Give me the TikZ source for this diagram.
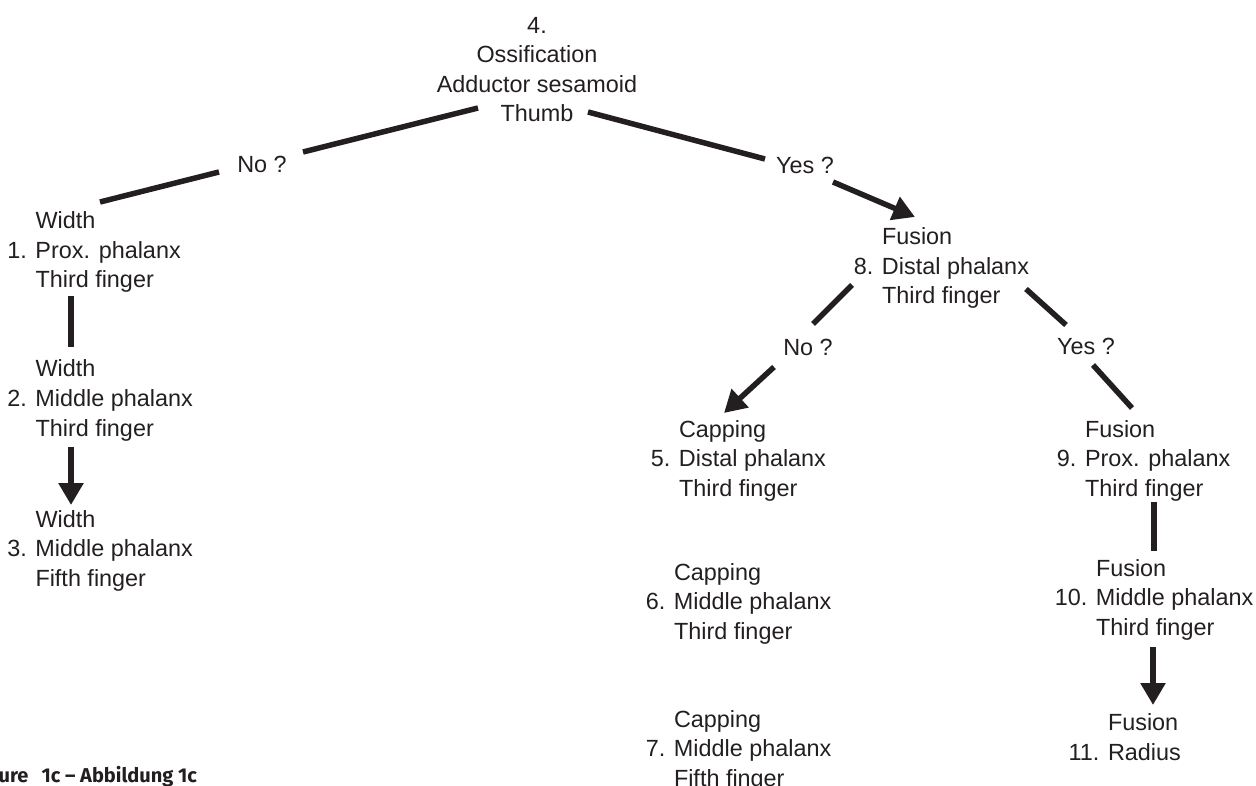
\documentclass[tikz,border=0pt]{standalone}
\usepackage{fontspec}
\setmainfont{Liberation Sans}
\newfontfamily\capfont{Fira Sans}
\usetikzlibrary{arrows.meta}
\definecolor{ink}{HTML}{231F20}
\begin{document}
\begin{tikzpicture}[x=1pt,y=-1pt,
  every node/.style={inner sep=0pt,outer sep=0pt,text=ink},
  lbl/.style={font=\fontsize{23.4}{29.5}\selectfont,anchor=base west},
  tlbl/.style={font=\fontsize{23.4}{29.5}\selectfont,anchor=base},
  qlbl/.style={font=\fontsize{23.4}{29.5}\selectfont,anchor=center},
  conn/.style={draw=ink,line width=5.5pt},
  arr/.style={conn,-{Triangle[length=22pt,width=24pt]}}
]
\path[use as bounding box] (0,0) rectangle (1256,786);
\clip (0,0) rectangle (1256,786);

% decision / measurement nodes
\node[tlbl] (n4) at (537,33.5) {\begin{tabular}[t]{@{}c@{}}4.\\Ossification\\Adductor sesamoid\\Thumb\end{tabular}};
\node[lbl] (n1) at (35.5,229) {\begin{tabular}[t]{@{}l@{}}Width\\\llap{1. }Prox. phalanx\\Third finger\end{tabular}};
\node[lbl] (n2) at (35.5,377) {\begin{tabular}[t]{@{}l@{}}Width\\\llap{2. }Middle phalanx\\Third finger\end{tabular}};
\node[lbl] (n3) at (35.5,527) {\begin{tabular}[t]{@{}l@{}}Width\\\llap{3. }Middle phalanx\\Fifth finger\end{tabular}};
\node[lbl] (n8) at (882,245) {\begin{tabular}[t]{@{}l@{}}Fusion\\\llap{8. }Distal phalanx\\Third finger\end{tabular}};
\node[lbl] (n5) at (679,437) {\begin{tabular}[t]{@{}l@{}}Capping\\\llap{5. }Distal phalanx\\Third finger\end{tabular}};
\node[lbl] (n6) at (674,580) {\begin{tabular}[t]{@{}l@{}}Capping\\\llap{6. }Middle phalanx\\Third finger\end{tabular}};
\node[lbl] (n7) at (674,727) {\begin{tabular}[t]{@{}l@{}}Capping\\\llap{7. }Middle phalanx\\Fifth finger\end{tabular}};
\node[lbl] (n9) at (1085,437) {\begin{tabular}[t]{@{}l@{}}Fusion\\\llap{9. }Prox. phalanx\\Third finger\end{tabular}};
\node[lbl] (n10) at (1096,576) {\begin{tabular}[t]{@{}l@{}}Fusion\\\llap{10. }Middle phalanx\\Third finger\end{tabular}};
\node[lbl] (n11) at (1108,730.5) {\begin{tabular}[t]{@{}l@{}}Fusion\\\llap{11. }Radius\end{tabular}};

% answer labels
\node[qlbl] (no1) at (262,164) {No ?};
\node[qlbl] (yes1) at (805,165) {Yes ?};
\node[qlbl] (no2) at (808,347) {No ?};
\node[qlbl] (yes2) at (1086,346) {Yes ?};

% connector end points
\coordinate (a1) at (478,108);  \coordinate (a2) at (303,152);
\coordinate (a3) at (219,172);  \coordinate (a4) at (100,202);
\coordinate (b1) at (588,112);  \coordinate (b2) at (765,159);
\coordinate (b3) at (833,182);  \coordinate (b4) at (915,217);
\coordinate (c1) at (852,285);  \coordinate (c2) at (813,324);
\coordinate (c3) at (774,367);  \coordinate (c4) at (724,413);
\coordinate (d1) at (1026,289); \coordinate (d2) at (1066,325);
\coordinate (d3) at (1093,365); \coordinate (d4) at (1132,408);
\coordinate (e1) at (71,296);   \coordinate (e2) at (71,347);
\coordinate (e3) at (71,447);   \coordinate (e4) at (71,505);
\coordinate (f1) at (1154,502); \coordinate (f2) at (1154,551);
\coordinate (f3) at (1153,647); \coordinate (f4) at (1153,705);

\draw[conn] (a1) -- (a2);
\draw[conn] (a3) -- (a4);
\draw[conn] (b1) -- (b2);
\draw[arr]  (b3) -- (b4);
\draw[conn] (c1) -- (c2);
\draw[arr]  (c3) -- (c4);
\draw[conn] (d1) -- (d2);
\draw[conn] (d3) -- (d4);
\draw[conn] (e1) -- (e2);
\draw[arr]  (e3) -- (e4);
\draw[conn] (f1) -- (f2);
\draw[arr]  (f3) -- (f4);

% caption
\node[anchor=base east,text=ink,font=\capfont\bfseries\fontsize{20}{24}\selectfont] (cap) at (197,782) {Figure\hspace{13pt}1c – Abbildung 1c};
\end{tikzpicture}
\end{document}
